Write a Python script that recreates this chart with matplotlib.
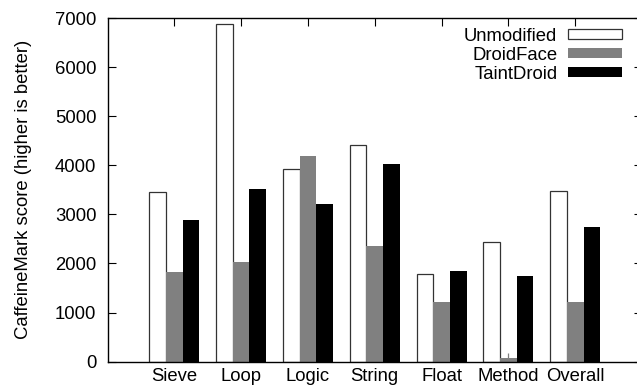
import numpy as np
import matplotlib
matplotlib.use('Agg')
import matplotlib.pyplot as plt

# Datos
categorias = ['Sieve', 'Loop', 'Logic', 'String', 'Float', 'Method', 'Overall']
unmodified = [3460, 6880, 3925, 4405, 1785, 2430, 3475]
droidface = [1825, 2030, 4190, 2355, 1215, 70, 1215]
taintdroid = [2885, 3515, 3210, 4025, 1845, 1745, 2740]
# pequena barra de error visible solo en Method / DroidFace
droidface_err = [0, 0, 0, 0, 0, 100, 0]

plt.rcParams['font.family'] = ['Liberation Sans', 'DejaVu Sans']
plt.rcParams['font.size'] = 13.3

fig = plt.figure(figsize=(6.37, 3.88), dpi=100)
# el borde derecho queda fuera de la imagen, como en el original
ax = fig.add_axes([0.1688, 0.0678, 0.839, 0.8858])

x = np.arange(1, len(categorias) + 1)
w = 0.25
ax.bar(x - w, unmodified, w, color='white', edgecolor='#333333', linewidth=0.9, label='Unmodified')
ax.bar(x, droidface, w, color='#808080', linewidth=0, label='DroidFace')
ax.bar(x + w, taintdroid, w, color='black', linewidth=0, label='TaintDroid')
ax.errorbar(x, droidface, yerr=[np.zeros(len(x)), droidface_err], fmt='none',
            ecolor='#808080', elinewidth=0.9, capsize=0)

ax.set_xlim(0, 8)
ax.set_ylim(0, 7000)
ax.set_xticks(x)
ax.set_xticklabels(categorias)
ax.set_yticks(range(0, 7001, 1000))
ax.tick_params(direction='in', length=6, width=0.8, top=True, right=True, bottom=False)
ax.tick_params(axis='x', pad=4.5)
ax.tick_params(axis='y', pad=8)
for s in ax.spines.values():
    s.set_linewidth(1.0)

ax.set_ylabel('CaffeineMark score (higher is better)')
ax.yaxis.set_label_coords(-0.142, 0.5)

ax.legend(loc='upper right', bbox_to_anchor=(622 / 637, 1 - 28 / 388),
          bbox_transform=fig.transFigure, frameon=False, markerfirst=False,
          borderaxespad=0, borderpad=0, handlelength=2.9, handleheight=0.45,
          labelspacing=0.1, handletextpad=0.6)

fig.savefig('out.png', dpi=100)
